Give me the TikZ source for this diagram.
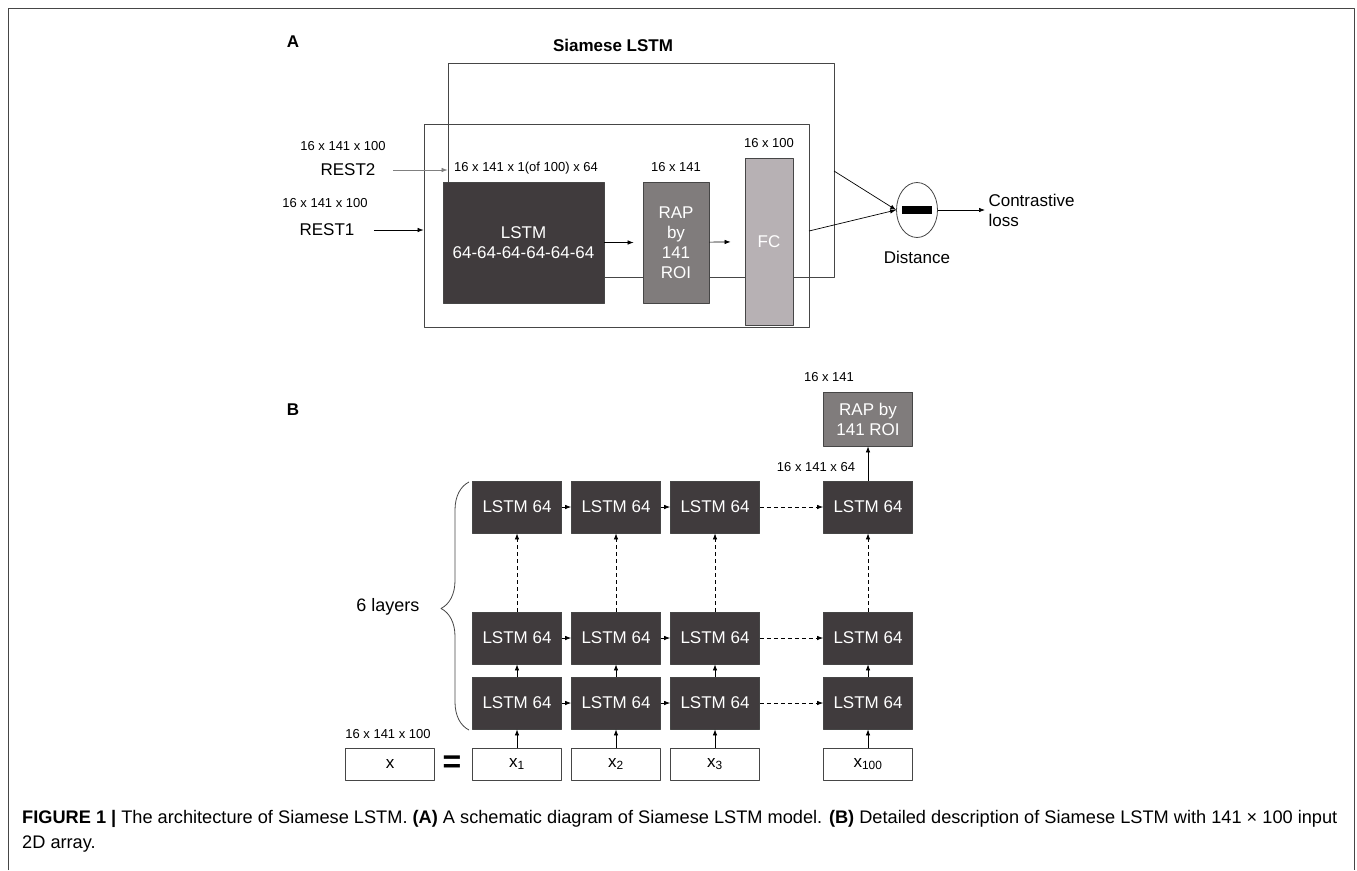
\documentclass[tikz,border=0pt]{standalone}
\usepackage{fontspec}
\setmainfont{Liberation Sans}
\usetikzlibrary{arrows.meta,shapes.geometric,decorations.pathreplacing,positioning,calc}
\definecolor{lstmgray}{RGB}{64,59,61}
\definecolor{rapgray}{RGB}{128,124,124}
\definecolor{fcgray}{RGB}{183,177,180}
\definecolor{edgegray}{RGB}{70,70,70}
\tikzset{d/.style={font=\fontsize{13}{13}\selectfont}}
\tikzset{t/.style={font=\fontsize{17}{20}\selectfont}}
\tikzset{blk/.style={draw=edgegray,line width=0.8pt,inner sep=0pt,text=white,align=center}}
\tikzset{cell/.style={blk,fill=lstmgray,minimum width=89pt,minimum height=52pt,font=\fontsize{17}{17}\selectfont}}
\tikzset{inp/.style={draw=edgegray,line width=0.8pt,fill=white,minimum width=89pt,minimum height=32pt,inner sep=0pt,font=\fontsize{17}{17}\selectfont}}
\tikzset{ar/.style={-{Latex[length=6pt,width=4.5pt]},line width=0.7pt}}
\tikzset{dar/.style={ar,dash pattern=on 4pt off 3pt}}

\begin{document}
\begin{tikzpicture}[x=1pt,y=-1pt,line join=round]
  \useasboundingbox (0,0) rectangle (1357,870);
  \draw[edgegray,line width=1pt] (8,870) -- (8,8) -- (1354,8) -- (1354,870);
  % panel A
  \node[font=\fontsize{17}{17}\selectfont\bfseries] (labA) at (293,42) {A};
  \node[font=\fontsize{17}{17}\selectfont\bfseries] (title) at (613,45) {Siamese LSTM};
  \node[draw=edgegray,line width=0.8pt,minimum width=386pt,minimum height=214pt] (back) at (641,170) {};
  \node[draw=edgegray,line width=0.8pt,minimum width=385pt,minimum height=203pt] (front) at (616.5,225.5) {};
  \node[blk,fill=lstmgray,minimum width=161pt,minimum height=121pt,t] (lstm) at (523.5,242.5) {LSTM\\64-64-64-64-64-64};
  \node[blk,fill=rapgray,minimum width=66pt,minimum height=121pt,t] (rap) at (676,242.5) {RAP\\by\\141\\ROI};
  \node[blk,fill=fcgray,minimum width=48pt,minimum height=167pt,t] (fc) at (769,241.5) {FC};
  \node[d] at (526,168) {16 x 141 x 1(of 100) x 64};
  \node[d] at (676,167) {16 x 141};
  \node[d] at (769,143) {16 x 100};
  \node[d] at (343,146) {16 x 141 x 100};
  \node[t] (rest2) at (348,170) {REST2};
  \node[d] at (325,203) {16 x 141 x 100};
  \node[t] (rest1) at (327,230) {REST1};
  \draw[ar,gray] ([xshift=14pt]rest2.east) -- (back.west |- rest2);
  \draw[ar] ([xshift=16pt]rest1.east) -- (front.west |- rest1);
  \draw[ar,shorten >=9pt] (lstm) -- (rap);
  \draw[ar,shorten >=14pt] (rap) -- (fc);
  \node[ellipse,draw=edgegray,line width=0.8pt,minimum width=41pt,minimum height=55pt,inner sep=0pt] (dist) at (917,210) {};
  \node[fill=black,minimum width=30pt,minimum height=8pt,inner sep=0pt] (minus) at (dist) {};
  \node[t] at (917,257) {Distance};
  \coordinate (outB) at (834,171);
  \coordinate (outF) at (809,231);
  \draw[ar] (outB) -- (dist.west);
  \draw[ar] (outF) -- (dist.west);
  \node[t,anchor=west,align=left] (loss) at (985,210) {Contrastive\\loss};
  \draw[ar] (dist.east) -- (loss.west);
  % panel B
  \node[font=\fontsize{17}{17}\selectfont\bfseries] (labB) at (293,410) {B};
  \foreach \c/\xx/\s in {1/517/1,2/616/2,3/715/3,4/868/100}{
    \node[cell] (t\c) at (\xx,507) {LSTM 64};
    \node[cell] (m\c) at (\xx,638) {LSTM 64};
    \node[cell] (b\c) at (\xx,703) {LSTM 64};
    \node[inp] (in\c) at (\xx,764) {x\textsubscript{\s}};
    \draw[ar] (in\c) -- (b\c);
    \draw[ar] (b\c) -- (m\c);
    \draw[dar] (m\c) -- (t\c);
  }
  \foreach \r in {t,m,b}{
    \draw[ar] (\r1) -- (\r2);
    \draw[ar] (\r2) -- (\r3);
    \draw[dar] (\r3) -- (\r4);
  }
  \node[blk,fill=rapgray,minimum width=89pt,minimum height=54pt,font=\fontsize{17}{20}\selectfont] (rapB) at (868,419) {RAP by\\141 ROI};
  \draw[ar] (t4) -- (rapB);
  \node[d] at (829,377) {16 x 141};
  \node[d] at (816,467) {16 x 141 x 64};
  \node[inp] (xin) at (390,764) {x};
  \node[font=\fontsize{32}{32}\selectfont\bfseries] (eq) at (452,764) {=};
  \node[d] at (388,734) {16 x 141 x 100};
  \draw[line width=0.8pt,edgegray,decorate,decoration={brace,amplitude=28pt,aspect=0.49}] (469,730) -- (469,482);
  \node[font=\fontsize{18}{18}\selectfont] (layers) at (388,607) {6 layers};
  % caption
  \node[anchor=west,font=\fontsize{18.2}{18.2}\selectfont,inner sep=0pt] (cap1) at (22,819) {\textbf{FIGURE 1 |} The architecture of Siamese LSTM. \textbf{(A)} A schematic diagram of Siamese LSTM model. \textbf{(B)} Detailed description of Siamese LSTM with 141 × 100 input};
  \node[anchor=west,font=\fontsize{18.2}{18.2}\selectfont,inner sep=0pt] (cap2) at (22,844) {2D array.};
\end{tikzpicture}
\end{document}
